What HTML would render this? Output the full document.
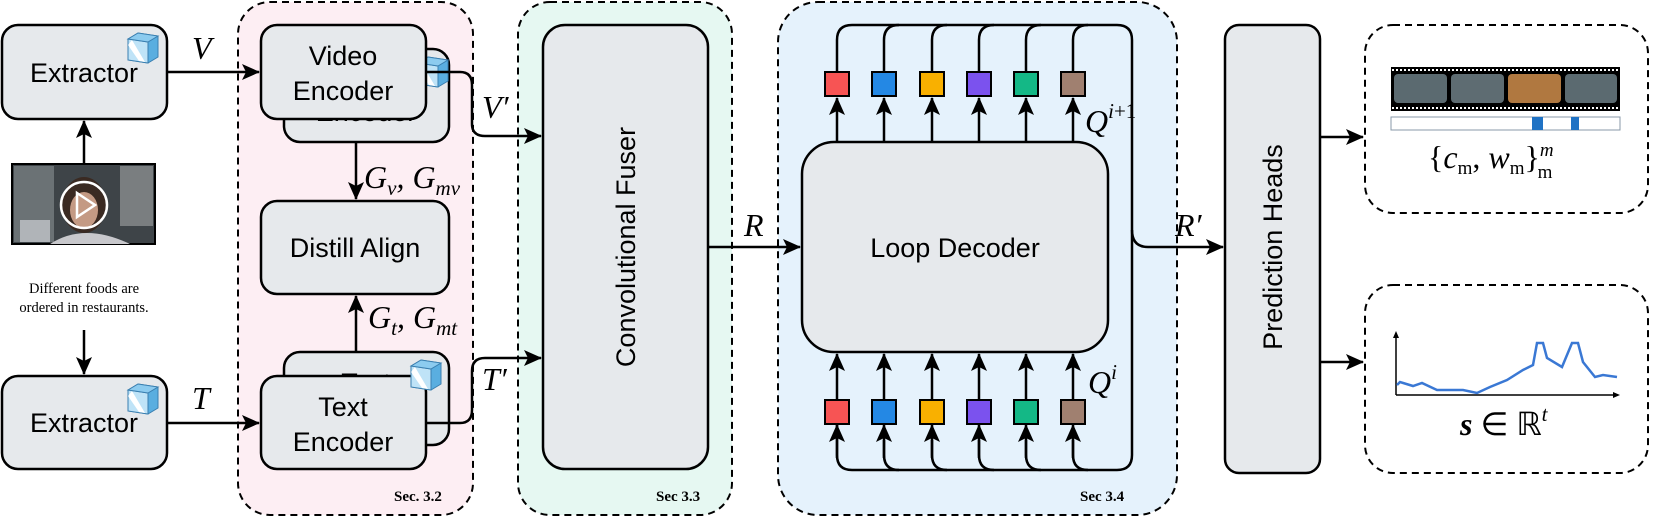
<!DOCTYPE html>
<html><head><meta charset="utf-8"><style>body{margin:0;background:#fff}svg{display:block}</style></head><body>
<svg width="1661" height="527" viewBox="0 0 1661 527" xmlns="http://www.w3.org/2000/svg" font-family="Liberation Sans, sans-serif">
<defs>
<marker id="ah" markerWidth="18" markerHeight="16" refX="17" refY="8" orient="auto" markerUnits="userSpaceOnUse">
<path d="M0,0 L18,8 L0,16 L4,8 Z" fill="#000"/></marker>
<g id="cube">
<path d="M0,6 L10,0 L30,3 L30,24 L20,30 L0,27 Z" fill="#5aaee0" stroke="#3a7fb0" stroke-width="1"/>
<path d="M0,6 L20,9 L20,30 L0,27 Z" fill="#bfe3f7" stroke="#3a7fb0" stroke-width="1"/>
<path d="M4,7 L17,29 L11,28 L0,12 Z" fill="#fff"/>
<path d="M0,6 L10,0 L30,3 L20,9 Z" fill="#8ccbef" stroke="#3a7fb0" stroke-width="1"/>
</g>
</defs>
<!-- regions -->
<rect x="238" y="2" width="235" height="513" rx="32" fill="#fdeef3" stroke="#000" stroke-width="2" stroke-dasharray="7,5"/>
<rect x="518" y="2" width="214" height="513" rx="32" fill="#e6f8f2" stroke="#000" stroke-width="2" stroke-dasharray="7,5"/>
<rect x="778" y="2" width="399" height="513" rx="40" fill="#e5f2fc" stroke="#000" stroke-width="2" stroke-dasharray="7,5"/>
<rect x="1365" y="25" width="283" height="188" rx="28" fill="#fff" stroke="#000" stroke-width="2" stroke-dasharray="7,5"/>
<rect x="1365" y="285" width="283" height="188" rx="28" fill="#fff" stroke="#000" stroke-width="2" stroke-dasharray="7,5"/>
<g font-family="Liberation Serif, serif" font-weight="bold" font-size="15">
<text x="394" y="501">Sec. 3.2</text><text x="656" y="501">Sec 3.3</text><text x="1080" y="501">Sec 3.4</text></g>

<g stroke="#000" stroke-width="2.5" fill="#e6e9ec">
<rect x="2" y="25" width="165" height="94" rx="16"/>
<rect x="2" y="376" width="165" height="93" rx="16"/>
<rect x="284" y="49" width="165" height="93" rx="16"/>
</g>
<use href="#cube" x="418" y="57"/>
<text x="366" y="121" font-size="27" text-anchor="middle">Encoder</text>
<g stroke="#000" stroke-width="2.5" fill="#e6e9ec">
<rect x="261" y="25" width="165" height="94" rx="16"/>
<rect x="261" y="201" width="188" height="93" rx="16"/>
<rect x="284" y="352" width="165" height="93" rx="16"/>
</g>
<text x="366" y="392" font-size="27" text-anchor="middle">Text</text>
<g stroke="#000" stroke-width="2.5" fill="#e6e9ec">
<rect x="261" y="376" width="165" height="93" rx="16"/>
<rect x="543" y="25" width="165" height="444" rx="22"/>
<rect x="802" y="142" width="306" height="210" rx="32"/>
<rect x="1225" y="25" width="95" height="448" rx="14"/>
</g>
<use href="#cube" x="128" y="33"/><use href="#cube" x="128" y="384"/>
<use href="#cube" x="411" y="360"/>
<g font-size="27" text-anchor="middle">
<text x="84" y="82">Extractor</text><text x="84" y="432">Extractor</text>
<text x="343" y="65">Video</text><text x="343" y="100">Encoder</text>
<text x="355" y="257">Distill Align</text>
<text x="343" y="416">Text</text><text x="343" y="451">Encoder</text>
<text x="955" y="257">Loop Decoder</text>
<text transform="translate(635,247) rotate(-90)">Convolutional Fuser</text>
<text transform="translate(1282,247) rotate(-90)">Prediction Heads</text>
</g>
<!-- thumbnail -->
<rect x="12" y="164" width="143" height="80" fill="#3e4448" stroke="#000" stroke-width="2"/>
<rect x="14" y="166" width="40" height="76" fill="#6b7275"/>
<rect x="120" y="166" width="33" height="60" fill="#7a7e80"/>
<rect x="20" y="220" width="30" height="22" fill="#b0b4b8"/>
<ellipse cx="84" cy="205" rx="22" ry="28" fill="#3a2a22"/>
<ellipse cx="84" cy="210" rx="14" ry="18" fill="#c49a84"/>
<path d="M50,244 Q84,222 130,244 Z" fill="#c8c8cc"/>
<circle cx="84" cy="205" r="23" fill="none" stroke="#fff" stroke-width="2.5"/>
<path d="M77,193 L95,205 L77,217 Z" fill="none" stroke="#fff" stroke-width="2.5"/>
<g font-family="Liberation Serif, serif" font-size="14.5" text-anchor="middle">
<text x="84" y="293">Different foods are</text><text x="84" y="312">ordered in restaurants.</text></g>

<g stroke="#000" stroke-width="2.5" fill="none" marker-end="url(#ah)">
<path d="M84,164 L84,121"/>
<path d="M84,330 L84,374"/>
<path d="M167,72 L259,72"/>
<path d="M167,423 L259,423"/>
<path d="M356,142 L356,199"/>
<path d="M356,352 L356,296"/>
<path d="M426,72 L460,72 Q472,72 472,85 L472,124 Q472,136 485,136 L541,136"/>
<path d="M426,423 L460,423 Q472,423 472,410 L472,371 Q472,358 485,358 L541,358"/>
<path d="M708,247 L800,247"/>
<path d="M1132,230 Q1132,247 1148,247 L1223,247"/>
<path d="M1320,137 L1363,137"/>
<path d="M1320,362 L1363,362"/>
</g>
<path d="M1132,40 L1132,455" stroke="#000" stroke-width="2.5" fill="none"/>
<path d="M837,72 L837,40 Q837,25 852,25 L1117,25 Q1132,25 1132,40" stroke="#000" stroke-width="2.5" fill="none"/>
<path d="M837,424 L837,455 Q837,470 852,470 L1117,470 Q1132,470 1132,455" stroke="#000" stroke-width="2.5" fill="none"/>
<g stroke="#000" stroke-width="2.5" fill="none">
<path d="M884,72 L884,40 Q884,25 899,25"/><path d="M932,72 L932,40 Q932,25 947,25"/>
<path d="M979,72 L979,40 Q979,25 994,25"/><path d="M1026,72 L1026,40 Q1026,25 1041,25"/>
<path d="M1073,72 L1073,40 Q1073,25 1088,25"/>
<path d="M884,440 L884,455 Q884,470 899,470"/><path d="M932,440 L932,455 Q932,470 947,470"/>
<path d="M979,440 L979,455 Q979,470 994,470"/><path d="M1026,440 L1026,455 Q1026,470 1041,470"/>
<path d="M1073,440 L1073,455 Q1073,470 1088,470"/>
</g>
<g stroke="#000" stroke-width="2.5" fill="none" marker-end="url(#ah)">
<path d="M837,142 L837,98"/><path d="M884,142 L884,98"/><path d="M932,142 L932,98"/><path d="M979,142 L979,98"/><path d="M1026,142 L1026,98"/><path d="M1073,142 L1073,98"/>
<path d="M837,399 L837,354"/><path d="M884,399 L884,354"/><path d="M932,399 L932,354"/><path d="M979,399 L979,354"/><path d="M1026,399 L1026,354"/><path d="M1073,399 L1073,354"/>
<path d="M837,458 L837,425"/><path d="M884,458 L884,425"/><path d="M932,458 L932,425"/><path d="M979,458 L979,425"/><path d="M1026,458 L1026,425"/><path d="M1073,458 L1073,425"/>
</g>
<g stroke="#000" stroke-width="2">
<rect x="825" y="72" width="24" height="24" fill="#f75454"/><rect x="872" y="72" width="24" height="24" fill="#2488e4"/>
<rect x="920" y="72" width="24" height="24" fill="#f9b000"/><rect x="967" y="72" width="24" height="24" fill="#7b52ee"/>
<rect x="1014" y="72" width="24" height="24" fill="#14b886"/><rect x="1061" y="72" width="24" height="24" fill="#a08070"/>
<rect x="825" y="400" width="24" height="24" fill="#f75454"/><rect x="872" y="400" width="24" height="24" fill="#2488e4"/>
<rect x="920" y="400" width="24" height="24" fill="#f9b000"/><rect x="967" y="400" width="24" height="24" fill="#7b52ee"/>
<rect x="1014" y="400" width="24" height="24" fill="#14b886"/><rect x="1061" y="400" width="24" height="24" fill="#a08070"/>
</g>
<g font-family="Liberation Serif, serif" font-style="italic" font-size="32">
<text x="192" y="59">V</text><text x="192" y="409">T</text>
<text x="364" y="188">G<tspan font-size="21" dy="7">v</tspan><tspan dy="-7">, G</tspan><tspan font-size="21" dy="7">mv</tspan></text>
<text x="368" y="328">G<tspan font-size="21" dy="7">t</tspan><tspan dy="-7">, G</tspan><tspan font-size="21" dy="7">mt</tspan></text>
<text x="482" y="118">V′</text><text x="482" y="390">T′</text>
<text x="744" y="236">R</text><text x="1175" y="236">R′</text>
<text x="1085" y="132">Q<tspan font-size="21" dy="-14">i</tspan><tspan font-size="21" font-style="normal">+1</tspan></text>
<text x="1088" y="393">Q<tspan font-size="21" dy="-14">i</tspan></text>
<text x="1460" y="435" font-weight="bold">s <tspan font-style="normal" font-weight="normal">∈ ℝ</tspan><tspan font-size="21" dy="-14" font-weight="normal">t</tspan></text>
<text x="1428" y="168" font-style="normal">{<tspan font-style="italic">c</tspan><tspan font-size="19" dy="6">m</tspan><tspan dy="-6">, </tspan><tspan font-style="italic">w</tspan><tspan font-size="19" dy="6">m</tspan><tspan dy="-6">}</tspan><tspan font-size="19" font-style="italic" dy="-12">m</tspan><tspan font-size="19" dx="-16" dy="22">m</tspan></text>
</g>
<rect x="1391" y="67" width="229" height="44" fill="#000"/>
<line x1="1392" y1="70" x2="1620" y2="70" stroke="#fff" stroke-width="2" stroke-dasharray="2,2"/>
<line x1="1392" y1="108" x2="1620" y2="108" stroke="#fff" stroke-width="2" stroke-dasharray="2,2"/>
<rect x="1394" y="74" width="53" height="29" rx="4" fill="#5b6a70"/>
<rect x="1451" y="74" width="53" height="29" rx="4" fill="#5e6c72"/>
<rect x="1508" y="74" width="53" height="29" rx="4" fill="#b07840"/>
<rect x="1565" y="74" width="52" height="29" rx="4" fill="#5b6a70"/>
<rect x="1391" y="117" width="229" height="13" fill="#fff" stroke="#8899aa" stroke-width="1"/>
<rect x="1532" y="117" width="11" height="13" fill="#1f72c4"/><rect x="1571" y="117" width="8" height="13" fill="#1f72c4"/>
<g stroke="#000" stroke-width="1.5" fill="none">
<path d="M1396,395 L1396,337"/><path d="M1396,395 L1615,395"/></g>
<path d="M1393,338 L1396,331 L1399,338 Z M1613,392 L1620,395 L1613,398 Z"/>
<polyline points="1397,385 1400,382 1413,386 1422,383 1437,390 1463,390 1477,393 1490,387 1507,380 1523,370 1533,365 1537,343 1543,343 1547,358 1562,367 1567,355 1572,343 1578,343 1583,362 1595,377 1603,375 1617,377" fill="none" stroke="#3a78d4" stroke-width="2.5"/>
</svg>
</body></html>
